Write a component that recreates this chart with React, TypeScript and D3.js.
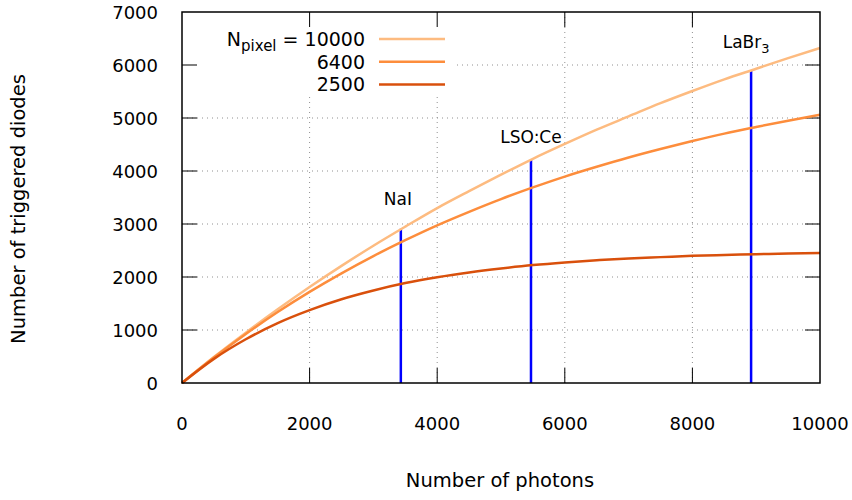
import React from 'react';
import * as d3 from 'd3';

// photons on the x axis
const photons = [0, 500, 1000, 1500, 2000, 2500, 3000, 3500, 4000, 4500, 5000,
  5500, 6000, 6500, 7000, 7500, 8000, 8500, 9000, 9500, 10000];

const diodes10000 = [0, 490, 950, 1390, 1810, 2210, 2590, 2950, 3300, 3620, 3930,
  4230, 4510, 4780, 5030, 5280, 5510, 5730, 5930, 6130, 6320];
const diodes6400 = [0, 480, 925, 1340, 1720, 2070, 2395, 2695, 2975, 3230, 3470,
  3690, 3895, 4080, 4255, 4415, 4565, 4705, 4830, 4950, 5060];
const diodes2500 = [0, 455, 825, 1130, 1375, 1580, 1745, 1885, 1995, 2085, 2160,
  2225, 2275, 2315, 2350, 2375, 2400, 2415, 2430, 2445, 2455];

const seriesLabels = ['10000', '6400', '2500'];
const seriesColors = ['#fdbb80', '#fd8d3c', '#d9500c'];
const seriesValues = [diodes10000, diodes6400, diodes2500];

// scintillators: photon yield and the top of each marker line
const crystals = ['NaI', 'LSO:Ce', 'LaBr'];
const crystalPhotons = [3430, 5470, 8920];
const crystalTops = [2910, 4210, 5900];

const xTicks = [0, 2000, 4000, 6000, 8000, 10000];
const yTicks = [0, 1000, 2000, 3000, 4000, 5000, 6000, 7000];

const width = 852;
const height = 500;
const margin = { top: 12, right: 32, bottom: 117, left: 182 };
const font = 'DejaVu Sans, sans-serif';

export default function App() {
  const innerW = width - margin.left - margin.right;
  const innerH = height - margin.top - margin.bottom;

  const x = d3.scaleLinear().domain([0, 10000]).range([0, innerW]);
  const y = d3.scaleLinear().domain([0, 7000]).range([innerH, 0]);

  const line = d3.line<number>()
    .x((_, i) => x(photons[i]))
    .y(d => y(d))
    .curve(d3.curveMonotoneX);

  const tickLen = 15;
  const gridColor = '#909090';

  return (
    <svg width={width} height={height}
      style={{ position: 'absolute', left: 0, top: 0, background: '#fff' }}
      fontFamily={font}>
      <g transform={`translate(${margin.left},${margin.top})`}>
        {/* dotted grid */}
        {xTicks.slice(1, -1).map(t => (
          <line key={'gx' + t} x1={x(t)} x2={x(t)} y1={0} y2={innerH}
            stroke={gridColor} strokeWidth={1} strokeDasharray="1,4" />
        ))}
        {yTicks.slice(1, -1).map(t => (
          <line key={'gy' + t} x1={0} x2={innerW} y1={y(t)} y2={y(t)}
            stroke={gridColor} strokeWidth={1} strokeDasharray="1,4" />
        ))}

        {/* key background hides grid */}
        <rect x={0} y={0} width={273} height={85} fill="#fff" />

        {/* ticks, mirrored on all sides */}
        {xTicks.slice(1, -1).map(t => (
          <g key={'tx' + t} stroke="#000" strokeWidth={1}>
            <line x1={x(t)} x2={x(t)} y1={innerH} y2={innerH - tickLen} />
            <line x1={x(t)} x2={x(t)} y1={0} y2={tickLen} />
          </g>
        ))}
        {yTicks.slice(1, -1).map(t => (
          <g key={'ty' + t} stroke="#000" strokeWidth={1}>
            <line x1={0} x2={tickLen} y1={y(t)} y2={y(t)} />
            <line x1={innerW} x2={innerW - tickLen} y1={y(t)} y2={y(t)} />
          </g>
        ))}

        {/* scintillator markers */}
        {crystals.map((c, i) => (
          <line key={c} x1={x(crystalPhotons[i])} x2={x(crystalPhotons[i])}
            y1={y(0)} y2={y(crystalTops[i])} stroke="#0000ff" strokeWidth={2.5} />
        ))}

        {/* curves */}
        {seriesValues.map((vals, i) => (
          <path key={seriesLabels[i]} d={line(vals) || ''} fill="none"
            stroke={seriesColors[i]} strokeWidth={2.5} />
        ))}

        {/* frame */}
        <rect x={0} y={0} width={innerW} height={innerH} fill="none" stroke="#000" strokeWidth={1.5} />

        {/* tick labels */}
        {xTicks.map(t => (
          <text key={'lx' + t} x={x(t)} y={innerH + 47} textAnchor="middle" fontSize={18}>{t}</text>
        ))}
        {yTicks.map(t => (
          <text key={'ly' + t} x={-24} y={y(t)} dy="0.37em" textAnchor="end" fontSize={18}>{t}</text>
        ))}

        {/* crystal labels */}
        <text x={x(crystalPhotons[0]) - 3} y={193} textAnchor="middle" fontSize={17}>{crystals[0]}</text>
        <text x={x(crystalPhotons[1])} y={131} textAnchor="middle" fontSize={17}>{crystals[1]}</text>
        <text x={x(crystalPhotons[2]) - 5} y={36} textAnchor="middle" fontSize={17}>
          {crystals[2]}<tspan fontSize={13} dy={5}>3</tspan>
        </text>

        {/* legend */}
        {seriesLabels.map((s, i) => (
          <g key={'k' + s} transform={`translate(0,${27 + i * 22.7})`}>
            <text x={183} y={0} dy="0.36em" textAnchor="end" fontSize={19}>
              {i === 0 ? (
                <>N<tspan fontSize={15} dy={5}>pixel</tspan><tspan dy={-5}> = 10000</tspan></>
              ) : s}
            </text>
            <line x1={197} x2={263} y1={0} y2={0} stroke={seriesColors[i]} strokeWidth={2.5} />
          </g>
        ))}
      </g>

      {/* axis titles */}
      <text x={500} y={487} textAnchor="middle" fontSize={19.5} fontFamily={font}>Number of photons</text>
      <text transform="translate(25,209) rotate(-90)" textAnchor="middle" fontSize={19.5} fontFamily={font}>
        Number of triggered diodes
      </text>
    </svg>
  );
}
